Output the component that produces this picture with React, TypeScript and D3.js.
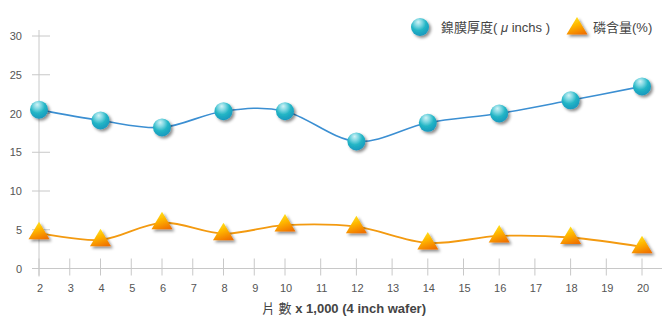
import { useEffect, useRef } from 'react';
import * as d3 from 'd3';

const xValues = [2, 4, 6, 8, 10, 12, 14, 16, 18, 20];
const thickness = [20.5, 19.1, 18.2, 20.3, 20.3, 16.4, 18.8, 20.0, 21.7, 23.5];
const phosphorus = [4.6, 3.7, 5.9, 4.5, 5.6, 5.4, 3.3, 4.2, 4.0, 2.8];
const xTicks = d3.range(2, 21);
const yTicks = [0, 5, 10, 15, 20, 25, 30];
const legendLabels = [['鎳膜厚度( ', 'μ', ' inchs )'], ['磷含量(%)']];

const W = 670;
const H = 330;
const FONT = '"Liberation Sans", Arial, "Noto Sans CJK TC", sans-serif';

const App = () => {
  const svgRef = useRef<SVGSVGElement | null>(null);

  useEffect(() => {
    if (!svgRef.current) return;
    const svg = d3.select(svgRef.current);
    svg.selectAll('*').remove();

    // the original axis is not evenly spaced: narrower up to 10, wider after
    const x = d3.scaleLinear().domain([2, 10, 20]).range([39, 285, 642]);
    const y = d3.scaleLinear().domain([0, 30]).range([268.5, 36]);

    const defs = svg.append('defs');

    const ball = defs.append('radialGradient')
      .attr('id', 'ball')
      .attr('cx', '42%').attr('cy', '32%').attr('r', '72%')
      .attr('fx', '40%').attr('fy', '22%');
    ball.append('stop').attr('offset', '0%').attr('stop-color', '#d2f3f6');
    ball.append('stop').attr('offset', '30%').attr('stop-color', '#7ad6e1');
    ball.append('stop').attr('offset', '58%').attr('stop-color', '#22b5c5');
    ball.append('stop').attr('offset', '100%').attr('stop-color', '#1795bd');

    const tri = defs.append('linearGradient')
      .attr('id', 'tri')
      .attr('x1', '30%').attr('y1', '0%').attr('x2', '70%').attr('y2', '100%');
    tri.append('stop').attr('offset', '0%').attr('stop-color', '#ffe620');
    tri.append('stop').attr('offset', '45%').attr('stop-color', '#ffb600');
    tri.append('stop').attr('offset', '100%').attr('stop-color', '#f07200');

    const shadow = defs.append('filter')
      .attr('id', 'shadow')
      .attr('x', '-50%').attr('y', '-50%').attr('width', '200%').attr('height', '200%');
    shadow.append('feDropShadow')
      .attr('dx', 2).attr('dy', 2)
      .attr('stdDeviation', 1.6)
      .attr('flood-color', '#000')
      .attr('flood-opacity', 0.45);

    const axisColor = '#c8c8c8';
    const labelColor = '#555';

    // y axis
    svg.append('line')
      .attr('x1', x(2)).attr('x2', x(2))
      .attr('y1', 30).attr('y2', y(0) + 8)
      .attr('stroke', axisColor).attr('stroke-width', 1);

    svg.append('g')
      .selectAll('line')
      .data(yTicks)
      .enter()
      .append('line')
      .attr('x1', x(2) - 7).attr('x2', x(2) + 11)
      .attr('y1', d => y(d)).attr('y2', d => y(d))
      .attr('stroke', axisColor);

    svg.append('g')
      .selectAll('text')
      .data(yTicks)
      .enter()
      .append('text')
      .attr('x', 22)
      .attr('y', d => y(d) + 4)
      .attr('text-anchor', 'end')
      .attr('fill', labelColor)
      .style('font-family', FONT)
      .style('font-size', '11px')
      .text(d => d);

    // x axis
    svg.append('line')
      .attr('x1', x(2) - 7).attr('x2', 662)
      .attr('y1', y(0)).attr('y2', y(0))
      .attr('stroke', axisColor);

    svg.append('g')
      .selectAll('line')
      .data(xTicks)
      .enter()
      .append('line')
      .attr('x1', d => x(d)).attr('x2', d => x(d))
      .attr('y1', y(0) - 10).attr('y2', y(0) + 7)
      .attr('stroke', axisColor);

    svg.append('g')
      .selectAll('text')
      .data(xTicks)
      .enter()
      .append('text')
      .attr('x', d => x(d) + 1)
      .attr('y', 292)
      .attr('text-anchor', 'middle')
      .attr('fill', labelColor)
      .style('font-family', FONT)
      .style('font-size', '11px')
      .text(d => d);

    const title = svg.append('text')
      .attr('x', 344)
      .attr('y', 313)
      .attr('text-anchor', 'middle')
      .attr('fill', '#444')
      .style('font-family', FONT)
      .style('font-size', '13px');
    title.append('tspan').text('片 數 ');
    title.append('tspan').style('font-weight', 'bold').text('x 1,000 (4 inch wafer)');

    // lines
    const line = d3.line<number>()
      .x((d, i) => x(xValues[i]))
      .y(d => y(d))
      .curve(d3.curveCardinal.tension(0));

    svg.append('path')
      .datum(thickness)
      .attr('d', line)
      .attr('fill', 'none')
      .attr('stroke', '#3b8fd2')
      .attr('stroke-width', 1.6);

    svg.append('path')
      .datum(phosphorus)
      .attr('d', line)
      .attr('fill', 'none')
      .attr('stroke', '#f39a10')
      .attr('stroke-width', 1.8);

    const triPath = (cx: number, cy: number, s: number) =>
      `M${cx},${cy - s}L${cx + s * 1.05},${cy + s * 0.75}L${cx - s * 1.05},${cy + s * 0.75}Z`;

    // markers
    svg.append('g')
      .selectAll('circle')
      .data(thickness)
      .enter()
      .append('circle')
      .attr('cx', (d, i) => x(xValues[i]))
      .attr('cy', d => y(d))
      .attr('r', 9)
      .attr('fill', 'url(#ball)')
      .attr('filter', 'url(#shadow)');

    svg.append('g')
      .selectAll('path')
      .data(phosphorus)
      .enter()
      .append('path')
      .attr('d', (d, i) => triPath(x(xValues[i]), y(d) - 1, 10))
      .attr('fill', 'url(#tri)')
      .attr('filter', 'url(#shadow)');

    // legend
    svg.append('circle')
      .attr('cx', 420).attr('cy', 27).attr('r', 9)
      .attr('fill', 'url(#ball)')
      .attr('filter', 'url(#shadow)');
    const l1 = svg.append('text')
      .attr('x', 441).attr('y', 32)
      .attr('fill', '#444')
      .style('font-family', FONT)
      .style('font-size', '13px');
    l1.append('tspan').text(legendLabels[0][0]);
    l1.append('tspan').style('font-style', 'italic').text(legendLabels[0][1]);
    l1.append('tspan').text(legendLabels[0][2]);

    svg.append('path')
      .attr('d', triPath(577, 27, 10))
      .attr('fill', 'url(#tri)')
      .attr('filter', 'url(#shadow)');
    svg.append('text')
      .attr('x', 593).attr('y', 32)
      .attr('fill', '#444')
      .style('font-family', FONT)
      .style('font-size', '13px')
      .text(legendLabels[1][0]);
  }, []);

  return (
    <svg
      ref={svgRef}
      width={W}
      height={H}
      style={{ position: 'absolute', left: 0, top: 0, background: '#fff' }}
    />
  );
};

export default App;
